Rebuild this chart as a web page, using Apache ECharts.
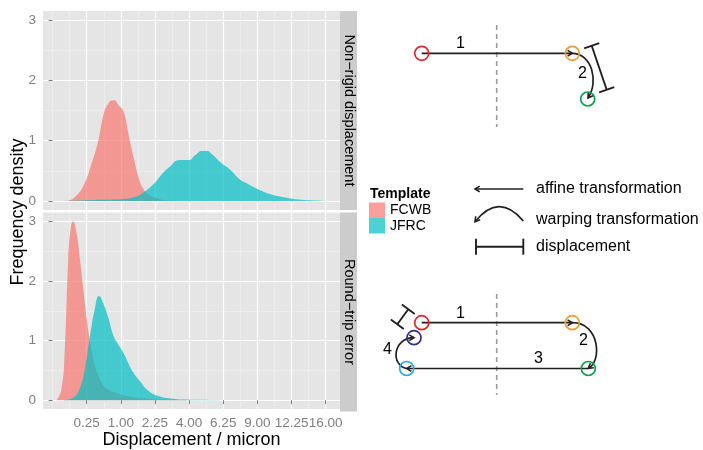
<!DOCTYPE html>
<html>
<head>
<meta charset="UTF-8"/>
<title>Displacement density</title>
<script src="https://cdn.jsdelivr.net/npm/echarts@6/dist/echarts.min.js"></script>
<style>
html, body { margin: 0; padding: 0; background: #fff; }
#chart { width: 703px; height: 450px; }
</style>
</head>
<body>
<div id="chart"></div>
<script>
// displacement in microns (x axis is square-root scaled) and density
var nonRigidFcwbX = [0.0064, 0.044, 0.1225, 0.226, 0.325, 0.449, 0.555, 0.672, 0.81, 0.931, 1.082, 1.232, 1.404, 1.588, 1.769, 2.045, 2.496, 2.958, 3.42];
var nonRigidFcwbY = [0, 0.005, 0.09, 0.31, 0.62, 1.0, 1.42, 1.62, 1.67, 1.59, 1.48, 1.12, 0.73, 0.39, 0.2, 0.09, 0.03, 0.005, 0];
var nonRigidJfrcX = [0.044, 0.49, 0.98, 1.416, 1.769, 2.19, 2.657, 2.993, 3.312, 3.61, 4.0, 4.368, 4.796, 5.108, 5.476, 6.052, 6.812, 7.453, 8.123, 9.0, 10.24, 11.49, 13.25, 15.44, 16.0];
var nonRigidJfrcY = [0, 0.02, 0.03, 0.06, 0.14, 0.28, 0.48, 0.58, 0.67, 0.68, 0.68, 0.76, 0.83, 0.83, 0.77, 0.64, 0.51, 0.37, 0.29, 0.2, 0.11, 0.06, 0.02, 0.005, 0];
var roundTripFcwbX = [0.0036, 0.0169, 0.0324, 0.0529, 0.0702, 0.09, 0.1225, 0.16, 0.2025, 0.25, 0.3025, 0.3844, 0.49, 0.6241, 0.8836, 1.1881, 1.7689, 2.8224, 3.8809];
var roundTripFcwbY = [0, 0.18, 0.87, 2.37, 2.87, 3.0, 2.82, 2.37, 1.87, 1.37, 0.98, 0.59, 0.34, 0.2, 0.12, 0.07, 0.03, 0.01, 0];
var roundTripJfrcX = [0.0256, 0.09, 0.16, 0.2256, 0.3025, 0.3844, 0.4624, 0.555, 0.6724, 0.7921, 0.9312, 1.0816, 1.2321, 1.4042, 1.6384, 1.9044, 2.3409, 2.9929, 3.8809, 5.29, 6.5];
var roundTripJfrcY = [0, 0.04, 0.2, 0.54, 1.09, 1.54, 1.75, 1.62, 1.37, 1.09, 0.93, 0.79, 0.62, 0.46, 0.32, 0.18, 0.08, 0.03, 0.01, 0.003, 0];

var xBreaks = [0.25, 1, 2.25, 4, 6.25, 9, 12.25, 16];
var xMinorBreaks = [0, 0.0625, 0.5625, 1.5625, 3.0625, 5.0625, 7.5625, 10.5625, 14.0625];
var yBreaks = [0, 1, 2, 3];
var yMinorBreaks = [0.5, 1.5, 2.5];
var templates = ['FCWB', 'JFRC'];
var panels = ['Non\u2212rigid displacement', 'Round\u2212trip error'];

var fillColors = ['rgba(248,118,109,0.7)', 'rgba(0,191,196,0.7)'];
var ink = '#231F20';
var font = '"Liberation Sans", Arial, Helvetica, sans-serif';

function toPairs(xs, ys) {
    return xs.map(function (v, i) { return [Math.sqrt(v), ys[i]]; });
}
function sq(a) { return a.map(Math.sqrt); }

var panelData = [
    [toPairs(nonRigidFcwbX, nonRigidFcwbY), toPairs(nonRigidJfrcX, nonRigidJfrcY)],
    [toPairs(roundTripFcwbX, roundTripFcwbY), toPairs(roundTripJfrcX, roundTripJfrcY)]
];

var grids = [], xAxes = [], yAxes = [], series = [];
var panelTop = [11, 212.5];
for (var p = 0; p < 2; p++) {
    grids.push({left: 43, top: panelTop[p], width: 297, height: 199, show: true,
        backgroundColor: '#E5E5E5', borderWidth: 0});
    var last = p == 1;
    xAxes.push({
        type: 'value', gridIndex: p, position: 'bottom', min: -0.14, max: 4.21,
        axisLine: {show: false},
        axisTick: {show: last, length: 4, lineStyle: {color: '#7F7F7F'}, customValues: sq(xBreaks)},
        axisLabel: {show: last, customValues: sq(xBreaks), color: '#7F7F7F', fontSize: 13.5,
            fontFamily: font, margin: 7, hideOverlap: false,
            formatter: function (v) { return (v * v).toFixed(2); }},
        splitLine: {show: true, lineStyle: {color: '#FFFFFF', width: 1.2}},
        name: last ? 'Displacement / micron' : '', nameLocation: 'middle', nameGap: 21,
        nameTextStyle: {color: '#000', fontSize: 18, fontFamily: font}
    });
    xAxes.push({
        type: 'value', gridIndex: p, position: 'top', min: -0.14, max: 4.21,
        axisLine: {show: false}, axisLabel: {show: false},
        axisTick: {show: false, customValues: sq(xMinorBreaks)},
        splitLine: {show: true, lineStyle: {color: '#F2F2F2', width: 0.6}}
    });
    yAxes.push({
        type: 'value', gridIndex: p, position: 'left', min: -0.15, max: 3.15,
        axisLine: {show: false},
        axisTick: {show: true, length: 4, lineStyle: {color: '#7F7F7F'}, customValues: yBreaks},
        axisLabel: {customValues: yBreaks, color: '#7F7F7F', fontSize: 13.5, fontFamily: font, margin: 7},
        splitLine: {show: true, lineStyle: {color: '#FFFFFF', width: 1.2}}
    });
    yAxes.push({
        type: 'value', gridIndex: p, position: 'right', min: -0.15, max: 3.15,
        axisLine: {show: false}, axisLabel: {show: false},
        axisTick: {show: false, customValues: yMinorBreaks},
        splitLine: {show: true, lineStyle: {color: '#F2F2F2', width: 0.6}}
    });
    for (var t = 0; t < 2; t++) {
        series.push({
            name: templates[t], type: 'line', xAxisIndex: p * 2, yAxisIndex: p * 2,
            data: panelData[p][t], showSymbol: false, symbol: 'none',
            smooth: true, silent: true, sampling: null,
            itemStyle: {color: fillColors[t]},
            lineStyle: {width: 1, opacity: 0},
            areaStyle: {color: fillColors[t], opacity: 1},
            z: 2 + t
        });
    }
}

// schematic helpers
function circ(x, y, c) {
    return {type: 'circle', shape: {cx: x, cy: y, r: 7}, style: {fill: 'none', stroke: c, lineWidth: 1.7}};
}
function seg(x1, y1, x2, y2, c, w) {
    return {type: 'line', shape: {x1: x1, y1: y1, x2: x2, y2: y2},
        style: {stroke: c || ink, lineWidth: w || 1.7}};
}
function head(x, y, dx, dy) {
    var a = Math.atan2(dy, dx), L = 5.5, s = 0.55;
    return {type: 'polyline', shape: {points: [
        [x - L * Math.cos(a - s), y - L * Math.sin(a - s)], [x, y],
        [x - L * Math.cos(a + s), y - L * Math.sin(a + s)]]},
        style: {fill: 'none', stroke: ink, lineWidth: 1.6}};
}
function curve(p0, c1, c2, p1) {
    var sh = {x1: p0[0], y1: p0[1], x2: p1[0], y2: p1[1], cpx1: c1[0], cpy1: c1[1]};
    if (c2) { sh.cpx2 = c2[0]; sh.cpy2 = c2[1]; }
    return {type: 'bezierCurve', shape: sh, style: {fill: 'none', stroke: ink, lineWidth: 1.7}};
}
function label(x, y, s, size, extra) {
    var st = {text: s, x: 0, y: 0, fill: '#000', font: (size || 16) + 'px ' + font,
        align: 'left', verticalAlign: 'middle'};
    for (var k in extra) st[k] = extra[k];
    return {type: 'text', x: x, y: y, style: st};
}
function bar(a, b) {
    var dx = b[0] - a[0], dy = b[1] - a[1], n = Math.sqrt(dx * dx + dy * dy);
    var ux = -dy / n * 8, uy = dx / n * 8;
    return [seg(a[0], a[1], b[0], b[1], ink, 1.9),
        seg(a[0] - ux, a[1] - uy, a[0] + ux, a[1] + uy, ink, 1.9),
        seg(b[0] - ux, b[1] - uy, b[0] + ux, b[1] + uy, ink, 1.9)];
}

var red = '#E3262B', orange = '#F39A2E', green = '#0BA14B', sky = '#2AADE3', navy = '#2E3192';
var dash = {stroke: '#9A9A9A', lineWidth: 1.6, lineDash: [5, 4]};

var graphics = [
    // facet strips
    {type: 'rect', shape: {x: 340, y: 11, width: 17, height: 199}, style: {fill: '#CCCCCC'}},
    {type: 'rect', shape: {x: 340, y: 212.5, width: 17, height: 199}, style: {fill: '#CCCCCC'}},
    label(348.5, 110.5, panels[0], 14.5, {align: 'center'}),
    label(348.5, 312, panels[1], 14.5, {align: 'center'}),
    label(18, 212, 'Frequency density', 18, {align: 'center'}),
    label(370, 194.5, 'Template', 14, {font: 'bold 14px ' + font}),

    // top schematic
    {type: 'line', shape: {x1: 496.7, y1: 25, x2: 496.7, y2: 127}, style: dash},
    seg(421.7, 53.3, 572.3, 53.3),
    head(572.3, 53.3, 1, 0),
    curve([572.3, 53.3], [592, 53.3], [599, 82], [588, 98]),
    head(588, 98, -11, 16),
    label(456, 43.5, '1'),
    label(578, 73.5, '2'),
    circ(421.7, 53.3, red), circ(572.3, 53.3, orange), circ(587.7, 99, green)
].concat(bar([591.7, 45.8], [606.7, 89.7])).concat([
    // key
    seg(475, 189, 523.3, 189), head(475, 189, -1, 0),
    label(536, 189, 'affine transformation'),
    curve([523.3, 221], [499, 192], null, [475, 221.7]),
    head(475, 221.7, -24, 29.7),
    label(536, 220, 'warping transformation'),
    seg(476, 246.7, 523.3, 246.7, ink, 1.9),
    seg(476, 238.7, 476, 254.7, ink, 1.9), seg(523.3, 238.7, 523.3, 254.7, ink, 1.9),
    label(536, 246.7, 'displacement'),

    // bottom schematic
    {type: 'line', shape: {x1: 496.7, y1: 294, x2: 496.7, y2: 395}, style: dash},
    seg(421.7, 322.7, 572.3, 322.7), head(572.3, 322.7, 1, 0),
    curve([572.3, 322.7], [600, 322.7], [602, 362], [588.3, 368.3]),
    head(588.3, 368.3, -12, 9),
    seg(588.3, 368.5, 406.7, 368.5), head(406.7, 368.5, -1, 0),
    curve([406.7, 368.5], [391, 366], [392, 338], [414, 337.7]),
    head(414, 337.7, 1, 0),
    label(456, 313.3, '1'), label(579, 341, '2'), label(534, 358.5, '3'), label(383, 350, '4'),
    circ(421.7, 322.7, red), circ(572.3, 322.7, orange), circ(588.3, 368.5, green),
    circ(406.7, 368.5, sky), circ(414, 337.7, navy)
]).concat(bar([408.3, 309.2], [397.3, 324.2]));

// rotate the vertical texts
graphics[2].rotation = -Math.PI / 2;
graphics[3].rotation = -Math.PI / 2;
graphics[4].rotation = Math.PI / 2;

var chart = echarts.init(document.getElementById('chart'), null, {renderer: 'canvas'});
chart.setOption({
    animation: false,
    backgroundColor: '#fff',
    textStyle: {fontFamily: font},
    grid: grids,
    xAxis: xAxes,
    yAxis: yAxes,
    legend: {
        data: templates, orient: 'vertical', left: 369, top: 202.5, padding: 0,
        itemGap: 0, itemWidth: 16, itemHeight: 15.5, icon: 'rect',
        textStyle: {fontSize: 14, color: '#000', fontFamily: font}
    },
    series: series,
    graphic: graphics
});
</script>
</body>
</html>
